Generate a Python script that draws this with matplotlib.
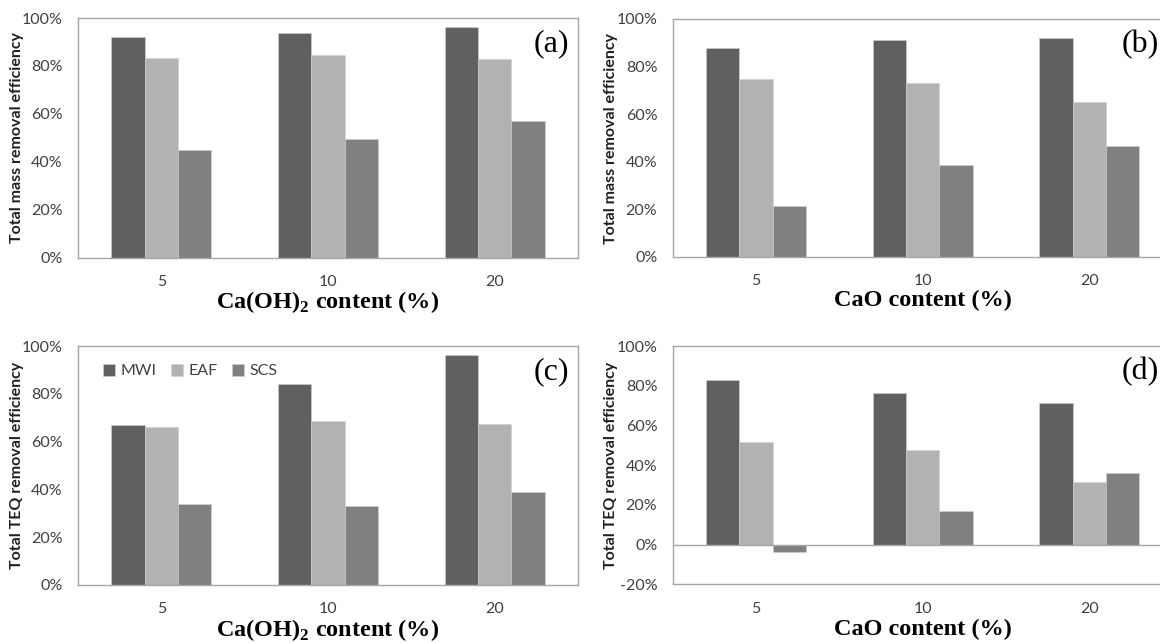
import matplotlib
matplotlib.use("Agg")
import matplotlib.pyplot as plt
import numpy as np

plt.rcParams['mathtext.fontset'] = 'custom'
plt.rcParams['mathtext.rm'] = 'Liberation Serif'
plt.rcParams['mathtext.bf'] = 'Liberation Serif:bold'

categories = ['5', '10', '20']
series_names = ['MWI', 'EAF', 'SCS']
colors = ['#606060', '#b2b2b2', '#808080']

# (a) Ca(OH)2, total mass removal efficiency (%)
a_mwi = [92.1, 93.6, 96.4]
a_eaf = [83.3, 84.7, 82.7]
a_scs = [44.8, 49.4, 57.2]
# (b) CaO, total mass removal efficiency (%)
b_mwi = [87.9, 91.3, 91.9]
b_eaf = [75.0, 73.3, 65.0]
b_scs = [21.5, 38.8, 46.5]
# (c) Ca(OH)2, total TEQ removal efficiency (%)
c_mwi = [66.9, 84.2, 96.2]
c_eaf = [66.0, 68.8, 67.5]
c_scs = [33.9, 33.2, 38.8]
# (d) CaO, total TEQ removal efficiency (%)
d_mwi = [82.7, 76.4, 71.4]
d_eaf = [51.5, 47.8, 31.3]
d_scs = [-3.9, 17.0, 35.9]

W, H = 1160, 643
fig = plt.figure(figsize=(W / 100, H / 100), dpi=100)

frame_col = '#a6a6a6'
tick_col = '#404040'
sans = 'Lato'

def panel(left, right, top, bottom, data, ylabel, xlabel, tag, tag_right,
          xlabel_top, ylabel_x, ymin=0, legend=False):
    ax = fig.add_axes([left / W, 1 - bottom / H, (right - left) / W, (bottom - top) / H])
    width_px, height_px = right - left, bottom - top
    x = np.arange(len(categories))
    bw = 0.2
    for i, (vals, c, name) in enumerate(zip(data, colors, series_names)):
        ax.bar(x + (i - 1) * bw, vals, width=bw, color=c, edgecolor='#d0d0d0',
               linewidth=0.4, label=name, zorder=2)
    ax.set_xlim(-0.5, 2.5)
    ax.set_ylim(ymin, 100)
    ax.set_yticks(np.arange(ymin, 101, 20))
    ax.set_yticklabels([f'{v}%' for v in range(ymin, 101, 20)])
    ax.set_xticks(x)
    ax.set_xticklabels(categories)
    ax.tick_params(length=0, labelsize=11.5, labelcolor=tick_col)
    ax.tick_params(axis='y', pad=11)
    ax.tick_params(axis='x', pad=12.5)
    for lab in ax.get_xticklabels() + ax.get_yticklabels():
        lab.set_fontfamily(sans)
    for s in ax.spines.values():
        s.set_color(frame_col)
        s.set_linewidth(1.0)
    if ymin < 0:
        ax.axhline(0, color=frame_col, lw=1.0, zorder=3)
    ax.set_ylabel(ylabel, fontfamily=sans, fontweight='bold', fontsize=11.5,
                  color='#202020', va='center')
    ax.yaxis.set_label_coords((ylabel_x - left) / width_px, 0.5)
    ax.set_xlabel(xlabel, fontfamily='Liberation Serif', fontweight='bold',
                  fontsize=17.5, color='black', va='top')
    ax.xaxis.set_label_coords(0.5, -(xlabel_top - bottom) / height_px)
    ax.text((tag_right - left) / width_px, 0.955, tag, transform=ax.transAxes,
            ha='right', va='top', fontfamily='Liberation Serif', fontsize=23,
            color='black')
    if legend:
        leg = ax.legend(loc='upper left', bbox_to_anchor=(0.022, 0.985), ncol=3,
                        frameon=False, handlelength=0.75, handleheight=0.75,
                        handletextpad=0.35, columnspacing=0.9,
                        prop={'family': sans, 'size': 11.5})
        for t in leg.get_texts():
            t.set_color(tick_col)
    return ax

xl1 = r'Ca(OH)$_{\mathbf{2}}$ content (%)'
xl2 = 'CaO content (%)'

panel(78, 578, 18, 257.5, [a_mwi, a_eaf, a_scs],
      'Total mass removal efficiency', xl1, '(a)', 569, 289, 17)
panel(672.6, 1172.6, 19, 257, [b_mwi, b_eaf, b_scs],
      'Total mass removal efficiency', xl2, '(b)', 1159, 290, 611.5)
panel(78, 578, 346, 585, [c_mwi, c_eaf, c_scs],
      'Total TEQ removal efficiency', xl1, '(c)', 569, 617, 17, legend=True)
panel(672.6, 1172.6, 346, 584.3, [d_mwi, d_eaf, d_scs],
      'Total TEQ removal efficiency', xl2, '(d)', 1159, 619, 611.5, ymin=-20)

fig.savefig('out.png', dpi=100)
